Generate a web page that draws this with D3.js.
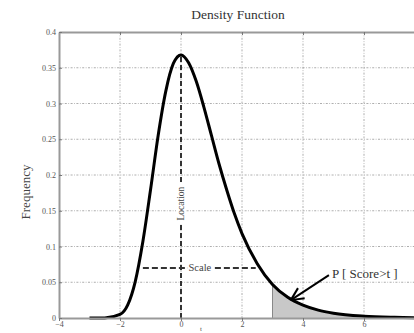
<!DOCTYPE html>
<html>
<head>
<meta charset="utf-8">
<script src="https://cdn.jsdelivr.net/npm/d3@7"></script>
<style>
  body { margin: 0; background: #fff; overflow: hidden; }
  svg { display: block; font-family: "Liberation Serif", serif; }
</style>
</head>
<body>
<svg id="chart"></svg>
<script>
// density curve
const curveX = [-3, -2.5, -2, -1.75, -1.5, -1.25, -1, -0.75, -0.5, -0.25, 0, 0.25, 0.5, 0.75, 1, 1.25, 1.5, 1.75, 2, 2.5, 3, 3.5, 4, 4.5, 5, 6, 7, 8];
const curveY = [0, 0.0001, 0.005, 0.018, 0.051, 0.107, 0.179, 0.255, 0.317, 0.356, 0.368, 0.357, 0.331, 0.295, 0.255, 0.215, 0.179, 0.146, 0.118, 0.076, 0.047, 0.029, 0.018, 0.011, 0.0067, 0.0025, 0.0009, 0.0003];
const xTicks = [-4, -2, 0, 2, 4, 6];
const yTicks = [0, 0.05, 0.1, 0.15, 0.2, 0.25, 0.3, 0.35, 0.4];
const yTickLabels = ["0", "0.05", "0.1", "0.15", "0.2", "0.25", "0.3", "0.35", "0.4"];
const tValue = 3;
const scaleLevel = 0.07;
const scaleRange = [-1.25, 2.45];

const margin = {top: 32, left: 59};
const w = 366, h = 286;

const svg = d3.select("#chart").attr("width", 414).attr("height", 333);
const g = svg.append("g").attr("transform", `translate(${margin.left}, ${margin.top})`);

const x = d3.scaleLinear().domain([-4, 8]).range([0, w]);
const y = d3.scaleLinear().domain([0, 0.4]).range([h, 0]);

const data = curveX.map((v, i) => ({x: v, y: curveY[i]}));

// grid
g.selectAll(".vgrid").data(xTicks.slice(1)).enter().append("line")
  .attr("x1", d => x(d)).attr("x2", d => x(d)).attr("y1", 0).attr("y2", h)
  .attr("stroke", "#999").attr("stroke-width", 0.8).attr("stroke-dasharray", "2,1.5,0.8,1.5");
g.selectAll(".hgrid").data(yTicks.slice(1, -1)).enter().append("line")
  .attr("x1", 0).attr("x2", w).attr("y1", d => y(d)).attr("y2", d => y(d))
  .attr("stroke", "#999").attr("stroke-width", 0.8).attr("stroke-dasharray", "2,1.5,0.8,1.5");

// shaded tail
const tail = data.filter(d => d.x >= tValue);
g.append("path").datum(tail)
  .attr("fill", "#c8c8c8")
  .attr("d", d3.area().x(d => x(d.x)).y0(y(0)).y1(d => y(d.y)).curve(d3.curveMonotoneX));
g.append("line")
  .attr("x1", x(tValue)).attr("x2", x(tValue)).attr("y1", y(0)).attr("y2", y(curveY[curveX.indexOf(tValue)]))
  .attr("stroke", "#888").attr("stroke-width", 1);

// location line
g.append("line")
  .attr("x1", x(0)).attr("x2", x(0)).attr("y1", y(0)).attr("y2", y(d3.max(curveY)))
  .attr("stroke", "#333").attr("stroke-width", 2).attr("stroke-dasharray", "5,3");
g.append("rect").attr("x", x(0) - 5).attr("y", y(0.16) - 21).attr("width", 10).attr("height", 42).attr("fill", "#fff");
g.append("text")
  .attr("transform", `translate(${x(0) + 3}, ${y(0.16)}) rotate(-90)`)
  .attr("text-anchor", "middle").attr("font-size", 9.5).attr("fill", "#444")
  .text("Location");

// scale line
g.append("line")
  .attr("x1", x(scaleRange[0])).attr("x2", x(scaleRange[1])).attr("y1", y(scaleLevel)).attr("y2", y(scaleLevel))
  .attr("stroke", "#333").attr("stroke-width", 2).attr("stroke-dasharray", "6,3");
g.append("rect").attr("x", x(0.22)).attr("y", y(scaleLevel) - 6).attr("width", 25).attr("height", 12).attr("fill", "#fff");
g.append("text")
  .attr("x", x(0.62)).attr("y", y(scaleLevel) + 3.5)
  .attr("text-anchor", "middle").attr("font-size", 10.5).attr("fill", "#444")
  .text("Scale");

// density curve
g.append("path").datum(data)
  .attr("fill", "none").attr("stroke", "#000").attr("stroke-width", 3)
  .attr("d", d3.line().x(d => x(d.x)).y(d => y(d.y)).curve(d3.curveMonotoneX));

// axes
const xAxis = g.append("g").attr("transform", `translate(0, ${h})`)
  .call(d3.axisBottom(x).tickValues(xTicks).tickSize(3).tickSizeOuter(0));
const xTop = g.append("g")
  .call(d3.axisTop(x).tickValues(xTicks).tickSize(-3).tickFormat("").tickSizeOuter(0));
const yAxis = g.append("g")
  .call(d3.axisLeft(y).tickValues(yTicks).tickSize(-3).tickSizeOuter(0).tickFormat((d, i) => yTickLabels[i]));
[xAxis, xTop, yAxis].forEach(a => {
  a.select(".domain").attr("stroke", "#999").attr("stroke-width", 2);
  a.selectAll(".tick line").attr("stroke", "#777");
  a.selectAll("text").attr("font-family", "Liberation Serif, serif").attr("font-size", 8).attr("fill", "#555");
});
xAxis.selectAll("text").attr("y", 3).attr("dy", "0.71em");
yAxis.selectAll("text").attr("x", -3);

// arrow
const tip = [x(3.6), y(0.025)];
const tailPt = [x(4.85), y(0.06)];
g.append("line")
  .attr("x1", tailPt[0]).attr("y1", tailPt[1]).attr("x2", tip[0]).attr("y2", tip[1])
  .attr("stroke", "#000").attr("stroke-width", 2);
const ang = Math.atan2(tailPt[1] - tip[1], tailPt[0] - tip[0]);
[0.45, -0.45].forEach(a => {
  g.append("line")
    .attr("x1", tip[0]).attr("y1", tip[1])
    .attr("x2", tip[0] + 14 * Math.cos(ang + a)).attr("y2", tip[1] + 14 * Math.sin(ang + a))
    .attr("stroke", "#000").attr("stroke-width", 2);
});
g.append("text")
  .attr("x", x(4.95)).attr("y", y(0.063) + 5)
  .attr("font-size", 13).attr("fill", "#333")
  .text("P [ Score>t ]");

// titles
svg.append("text").attr("x", 238).attr("y", 19).attr("text-anchor", "middle")
  .attr("font-size", 13.5).attr("fill", "#333").text("Density Function");
svg.append("text").attr("transform", "translate(30, 192) rotate(-90)").attr("text-anchor", "middle")
  .attr("font-size", 13).attr("fill", "#444").text("Frequency");
svg.append("text").attr("x", 201).attr("y", 331).attr("text-anchor", "middle")
  .attr("font-size", 7).attr("fill", "#555").text("t");
</script>
</body>
</html>
